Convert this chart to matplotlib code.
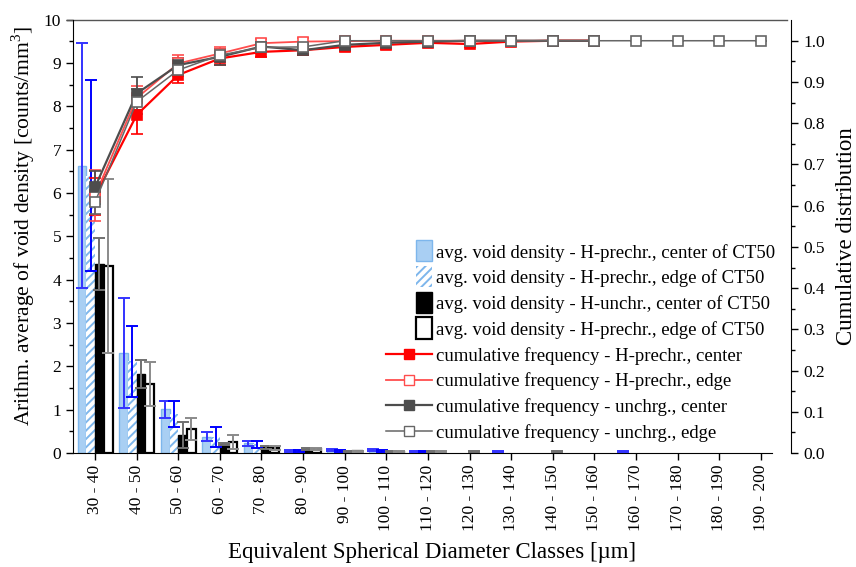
import matplotlib
matplotlib.use('Agg')
import matplotlib.pyplot as plt
import numpy as np
from matplotlib.patches import Rectangle
from matplotlib.lines import Line2D
from matplotlib.legend_handler import HandlerPatch

plt.rcParams['font.family'] = ['Liberation Serif', 'DejaVu Serif']
plt.rcParams['hatch.linewidth'] = 1.4
plt.rcParams['mathtext.fontset'] = 'custom'
plt.rcParams['mathtext.rm'] = 'Liberation Serif'

# size classes in µm
classes = ['30 - 40', '40 - 50', '50 - 60', '60 - 70', '70 - 80', '80 - 90',
           '90 - 100', '100 - 110', '110 - 120', '120 - 130', '130 - 140',
           '140 - 150', '150 - 160', '160 - 170', '170 - 180', '180 - 190',
           '190 - 200']

# average void density [counts/mm^3] and standard deviation
dens_h_center = [6.63, 2.30, 1.01, 0.38, 0.22, 0.05, 0.07, 0.07, 0.03, 0, 0.03, 0, 0, 0.03, 0, 0, 0]
err_h_center = [2.82, 1.27, 0.20, 0.10, 0.05, 0.02, 0.02, 0.02, 0.01, 0, 0.01, 0, 0, 0.01, 0, 0, 0]
dens_h_edge = [6.40, 2.12, 0.89, 0.36, 0.20, 0.05, 0.04, 0.04, 0.03, 0, 0, 0, 0, 0, 0, 0, 0]
err_h_edge = [2.21, 0.82, 0.30, 0.23, 0.08, 0.02, 0.02, 0.02, 0.01, 0, 0, 0, 0, 0, 0, 0, 0]
dens_u_center = [4.37, 1.82, 0.41, 0.21, 0.13, 0.09, 0.04, 0.04, 0.03, 0.03, 0, 0.03, 0, 0, 0, 0, 0]
err_u_center = [0.60, 0.33, 0.30, 0.03, 0.04, 0.02, 0.01, 0.01, 0.01, 0.01, 0, 0.01, 0, 0, 0, 0, 0]
dens_u_edge = [4.31, 1.59, 0.55, 0.26, 0.12, 0.09, 0.04, 0.03, 0.03, 0, 0, 0, 0, 0, 0, 0, 0]
err_u_edge = [2.01, 0.50, 0.25, 0.16, 0.05, 0.02, 0.01, 0.01, 0.01, 0, 0, 0, 0, 0, 0, 0, 0]

# cumulative frequency
cum_h_center = [0.622, 0.820, 0.917, 0.957, 0.973, 0.977, 0.985, 0.990, 0.995, 0.992, 0.998, 1.0, 1.0]
cerr_h_center = [0.045, 0.046, 0.020, 0.015, 0.012, 0.012, 0.010, 0.010, 0.008, 0.008, 0.005, 0.005, 0.005]
cum_h_edge = [0.625, 0.861, 0.945, 0.969, 0.994, 0.998, 0.999, 1.0, 1.0, 1.0, 1.0, 1.0, 1.0]
cerr_h_edge = [0.062, 0.030, 0.020, 0.015, 0.010, 0.008, 0.006, 0.005, 0.005, 0.005, 0.005, 0.005, 0.005]
cum_u_center = [0.645, 0.872, 0.941, 0.961, 0.986, 0.977, 0.990, 0.995, 0.998, 1.0, 1.0, 1.0, 1.0]
cerr_u_center = [0.040, 0.040, 0.018, 0.020, 0.012, 0.012, 0.010, 0.008, 0.006, 0.005, 0.005, 0.005, 0.005]
cum_u_edge = [0.609, 0.852, 0.929, 0.965, 0.984, 0.985, 1.0, 1.0, 1.0, 1.0, 1.0, 1.0, 1.0, 1.0, 1.0, 1.0, 1.0]
cerr_u_edge = [0.030, 0.030, 0.015, 0.012, 0.010, 0.008, 0.005, 0.005, 0.005, 0.005, 0.005, 0.005, 0.005, 0, 0, 0, 0]

x = np.arange(len(classes))
w = 0.21

fig = plt.figure(figsize=(8.56, 5.67), dpi=100)
ax = fig.add_axes([0.0853, 0.201, 0.8166, 0.7646])

blue = '#a9cff3'
blue_edge = '#7db6ec'


def bars(xpos, vals, errs, ecol, **kw):
    # skip empty classes so no baseline stubs get drawn
    vals = np.array(vals)
    errs = np.array(errs)
    m = vals > 0
    ax.bar(xpos[m], vals[m], w, **kw)
    ax.errorbar(xpos[m], vals[m], yerr=errs[m], fmt='none', ecolor=ecol,
                elinewidth=1.4, capsize=4.5, capthick=1.4, zorder=3)


bars(x - 1.5 * w, dens_h_center, err_h_center, '#3333ff',
     color=blue, edgecolor=blue_edge, lw=1)
bars(x - 0.5 * w, dens_h_edge, err_h_edge, '#0000ff',
     color='white', edgecolor=blue_edge, hatch='////', lw=0)
bars(x + 0.5 * w, dens_u_center, err_u_center, '#707070',
     color='black', edgecolor='black', lw=1)
bars(x + 1.5 * w, dens_u_edge, err_u_edge, '#8a8a8a',
     color='white', edgecolor='black', lw=1.6)

ax.set_xlim(-0.53, 16.27)
ax.set_ylim(0, 10)
ax.set_yticks(np.arange(0, 11, 1))
ax.set_yticks(np.arange(0.5, 10, 1), minor=True)
ax.set_xticks(x)
ax.set_xticklabels(classes, rotation=90)
ax.tick_params(axis='both', which='major', direction='out', length=5, width=1, labelsize=12.5)
ax.tick_params(axis='y', which='minor', direction='out', length=3, width=1)
ax.spines['right'].set_visible(False)
ax.spines['top'].set_visible(False)
# top frame line running over to the offset right axis
ax.plot([-0.009, 1.021], [1, 1], transform=ax.transAxes, color='#555555',
        lw=1, clip_on=False)
ax.set_ylabel('Arithm. average of void density [counts/mm$^3$]', fontsize=15.6)
ax.yaxis.set_label_coords(-0.052, 0.525)
ax.set_xlabel('Equivalent Spherical Diameter Classes [µm]', fontsize=16.5, labelpad=9)
ax.xaxis.set_label_coords(0.513, -0.205)

# cumulative curves on the right axis
ax2 = ax.twinx()
ax2.spines['right'].set_position(('outward', 14))
ax2.spines['top'].set_visible(False)
ax2.spines['left'].set_visible(False)
ax2.spines['bottom'].set_visible(False)
ax2.set_ylim(0, 1.0515)
ax2.set_yticks(np.arange(0, 1.01, 0.1))
ax2.set_yticks(np.arange(0.05, 1.0, 0.1), minor=True)
ax2.tick_params(axis='y', which='major', direction='out', length=5, width=1, labelsize=12.5)
ax2.tick_params(axis='y', which='minor', direction='out', length=3, width=1)
ax2.set_ylabel('Cumulative distribution', fontsize=16.5, labelpad=8)


def cum(vals, errs, color, mfc, lw, ms):
    xs = x[:len(vals)]
    return ax2.errorbar(xs, vals, yerr=errs, color=color, lw=lw, marker='s', ms=ms,
                        mfc=mfc, mec=color, mew=1.2, ecolor=color, elinewidth=1.3,
                        capsize=4.5, capthick=1.3)


cum(cum_h_center, cerr_h_center, '#ff0000', '#ff0000', 1.6, 7)
cum(cum_h_edge, cerr_h_edge, '#ff4d4d', 'white', 1.3, 7)
cum(cum_u_center, cerr_u_center, '#4d4d4d', '#4d4d4d', 1.6, 7)
cum(cum_u_edge, cerr_u_edge, '#666666', 'white', 1.1, 7)


def bar_handle(legend, orig_handle, xdescent, ydescent, width, height, fontsize):
    hw = 0.33 * width
    return Rectangle((width - hw - xdescent, -ydescent - 0.3 * height), hw, height * 1.62)


handles = [
    Rectangle((0, 0), 1, 1, facecolor=blue, edgecolor=blue_edge, lw=1),
    Rectangle((0, 0), 1, 1, facecolor='white', edgecolor=blue_edge, hatch='////', lw=0),
    Rectangle((0, 0), 1, 1, facecolor='black', edgecolor='black', lw=1),
    Rectangle((0, 0), 1, 1, facecolor='white', edgecolor='black', lw=1.6),
    Line2D([], [], color='#ff0000', lw=1.6, marker='s', ms=7, mfc='#ff0000'),
    Line2D([], [], color='#ff4d4d', lw=1.3, marker='s', ms=7, mfc='white'),
    Line2D([], [], color='#4d4d4d', lw=1.6, marker='s', ms=7, mfc='#4d4d4d'),
    Line2D([], [], color='#666666', lw=1.1, marker='s', ms=7, mfc='white'),
]
labels = [
    'avg. void density - H-prechr., center of CT50',
    'avg. void density - H-prechr., edge of CT50',
    'avg. void density - H-unchr., center of CT50',
    'avg. void density - H-prechr., edge of CT50',
    'cumulative frequency - H-prechr., center',
    'cumulative frequency - H-prechr., edge',
    'cumulative frequency - unchrg., center',
    'cumulative frequency - unchrg., edge',
]
hp = HandlerPatch(patch_func=bar_handle)
ax2.legend(handles, labels, loc='lower right', bbox_to_anchor=(1.021, 0.0),
           frameon=False, fontsize=13.5, handlelength=2.45, handletextpad=0.25,
           labelspacing=0.42, borderaxespad=0.2,
           handler_map={Rectangle: hp})

fig.savefig('out.png', dpi=100)
